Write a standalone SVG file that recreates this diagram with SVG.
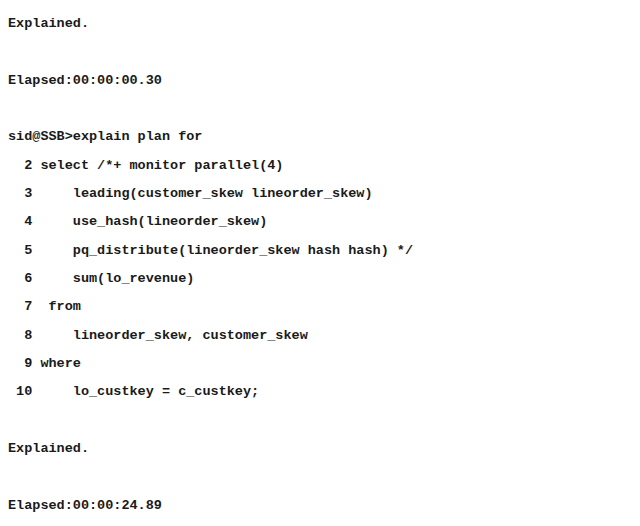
<svg xmlns="http://www.w3.org/2000/svg" width="640" height="526" viewBox="0 0 640 526">
<style>text{font-family:"Liberation Mono","DejaVu Sans Mono",monospace;font-size:13.5px;font-weight:bold;fill:#1a1a1a;white-space:pre}</style>
<rect width="640" height="526" fill="#fff"/>
<text x="8" y="27" xml:space="preserve">Explained.</text>
<text x="8" y="84" xml:space="preserve">Elapsed:00:00:00.30</text>
<text x="8" y="140" xml:space="preserve">sid@SSB&gt;explain plan for</text>
<text x="8" y="169" xml:space="preserve">  2 select /*+ monitor parallel(4)</text>
<text x="8" y="197" xml:space="preserve">  3     leading(customer_skew lineorder_skew)</text>
<text x="8" y="225" xml:space="preserve">  4     use_hash(lineorder_skew)</text>
<text x="8" y="254" xml:space="preserve">  5     pq_distribute(lineorder_skew hash hash) */</text>
<text x="8" y="282" xml:space="preserve">  6     sum(lo_revenue)</text>
<text x="8" y="310" xml:space="preserve">  7  from</text>
<text x="8" y="339" xml:space="preserve">  8     lineorder_skew, customer_skew</text>
<text x="8" y="367" xml:space="preserve">  9 where</text>
<text x="8" y="395" xml:space="preserve"> 10     lo_custkey = c_custkey;</text>
<text x="8" y="452" xml:space="preserve">Explained.</text>
<text x="8" y="509" xml:space="preserve">Elapsed:00:00:24.89</text>
</svg>
